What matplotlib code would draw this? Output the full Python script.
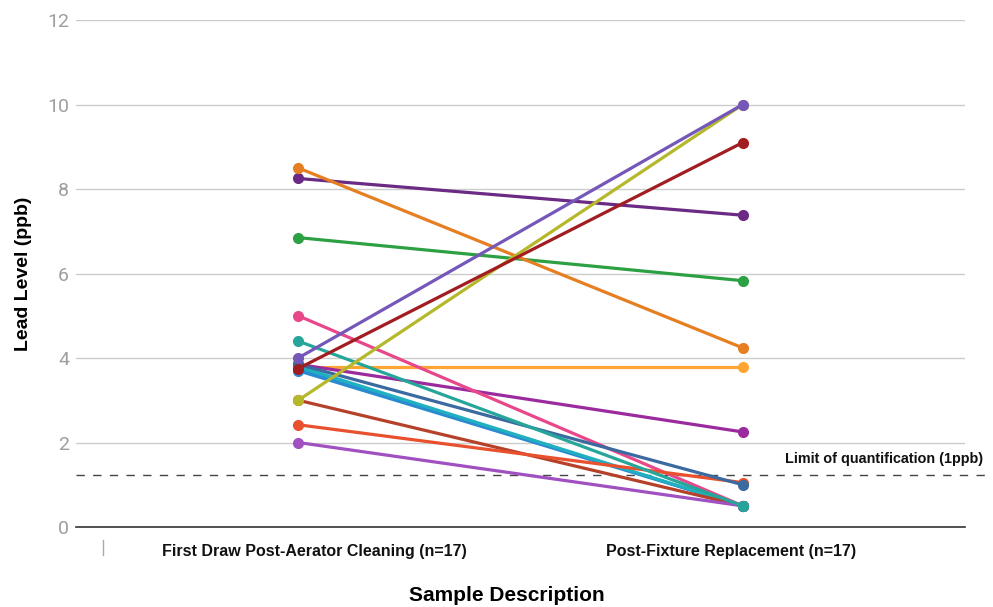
import matplotlib
matplotlib.use("Agg")
import matplotlib.pyplot as plt
from matplotlib.lines import Line2D

categories = ["First Draw Post-Aerator Cleaning (n=17)", "Post-Fixture Replacement (n=17)"]
first_draw = [3.78, 3.85, 3.75, 3.7, 3.8, 3.0, 2.0, 5.0, 2.42, 3.85, 4.4, 6.85, 8.25, 8.5, 3.0, 4.0, 3.75]
post_fixture = [3.78, 2.25, 0.5, 0.5, 0.5, 0.5, 0.5, 0.5, 1.05, 1.0, 0.5, 5.83, 7.38, 4.24, 10.0, 10.0, 9.1]
colors = ["#ffa534", "#9b2a9e", "#1aa3dc", "#2a8ad0", "#20b0c0", "#b5412a", "#a050c0", "#e8488a",
          "#e8502e", "#3a6aa0", "#26a69a", "#2ca043", "#6b2a84", "#e67e22", "#b5b82a", "#7457b8", "#a11d21"]
yticks = [0, 2, 4, 6, 8, 10, 12]
limit_value = 1.23
limit_label = "Limit of quantification (1ppb)"

bold_font = ["Liberation Sans", "DejaVu Sans"]

fig = plt.figure(figsize=(9.93, 6.07), dpi=100)
ax = fig.add_axes([0.0765, 0.1318, 0.8953, 0.8352])

x = [0, 1]
for a, b, c in zip(first_draw, post_fixture, colors):
    ax.plot(x, [a, b], color=c, lw=2.3, marker="o", markersize=7, solid_capstyle="round", zorder=3)

ax.set_xlim(-0.5, 1.5)
ax.set_ylim(0, 12)
ax.set_yticks(yticks)
ax.set_yticklabels([str(t) for t in yticks], color="#9e9e9e", fontsize=14, family=["Roboto", "DejaVu Sans"])
# category labels are slightly offset from the data columns in the reference
label_shift = [0.036, -0.027]
ax.set_xticks([xi + s for xi, s in zip(x, label_shift)])
ax.set_xticklabels(categories, fontweight="bold", fontsize=11.5, color="#111111", family=bold_font)
ax.tick_params(axis="both", length=0)
ax.tick_params(axis="y", pad=5)
ax.tick_params(axis="x", pad=12)
ax.grid(axis="y", color="#cccccc", lw=1, zorder=0)
for s in ["top", "right", "left"]:
    ax.spines[s].set_visible(False)
ax.spines["bottom"].set_color("#333333")
ax.spines["bottom"].set_linewidth(1.2)

# limit line extending beyond plot area
ax.add_line(Line2D([-0.5, 1.545], [limit_value, limit_value], color="#444444", lw=1,
                   ls=(0, (6, 6)), clip_on=False, zorder=2))
ax.text(1.54, limit_value + 0.38, limit_label, ha="right", va="center",
        fontsize=10.4, fontweight="bold", color="#111111", clip_on=False, family=bold_font)

ax.set_ylabel("Lead Level (ppb)", fontweight="bold", fontsize=14, family=bold_font)
ax.yaxis.set_label_coords(-0.0495, 0.5)
ax.set_xlabel("Sample Description", fontweight="bold", fontsize=15, family=bold_font)
ax.xaxis.set_label_coords(0.4848, -0.1164)

# small tick mark at bottom-left
fig.add_artist(Line2D([103 / 993, 103 / 993], [1 - 540 / 607, 1 - 555 / 607], color="#aaaaaa", lw=1))

fig.savefig("out.png", dpi=100)
